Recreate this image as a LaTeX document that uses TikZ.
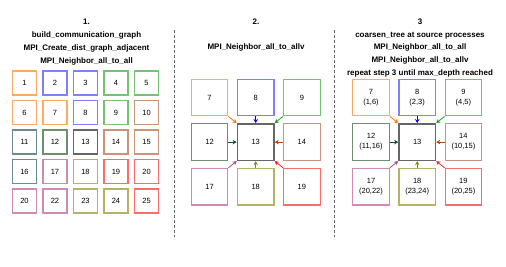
\documentclass[tikz,border=0pt]{standalone}
\usepackage{fontspec}
\setmainfont{Liberation Sans}
\usepackage{tikz}
\usetikzlibrary{arrows.meta}

% colori dei bordi (chiari) e delle frecce (scuri)
\definecolor{arancio}{HTML}{FFAA66}
\definecolor{arancioscuro}{HTML}{FF7700}
\definecolor{blu}{HTML}{7F7FFF}
\definecolor{bluscuro}{HTML}{0000FF}
\definecolor{verde}{HTML}{74C274}
\definecolor{verdescuro}{HTML}{1E991E}
\definecolor{marrone}{HTML}{C99479}
\definecolor{marronescuro}{HTML}{A84A10}
\definecolor{salvia}{HTML}{6F8F6F}
\definecolor{salviascuro}{HTML}{0B4A40}
\definecolor{petrolio}{HTML}{6B8C8C}
\definecolor{grigio}{HTML}{666666}
\definecolor{malva}{HTML}{D08CB0}
\definecolor{malvascuro}{HTML}{A34F80}
\definecolor{oliva}{HTML}{B4B460}
\definecolor{olivascuro}{HTML}{8C8C00}
\definecolor{rosso}{HTML}{FF6B6B}
\definecolor{rossoscuro}{HTML}{FF1A1A}

\begin{document}
\begin{tikzpicture}[x=1pt, y=-1pt, >=Stealth,
    cella/.style={draw, line width=1.3pt, minimum size=24pt, inner sep=0pt,
        font=\fontsize{7.5}{9}\selectfont},
    cellagrande/.style={cella, minimum size=36.5pt, align=center,
        font=\fontsize{7.5}{10}\selectfont},
    centro/.style={cellagrande, draw=grigio, line width=1.6pt},
    titolo/.style={align=center, font=\fontsize{8}{12.9}\selectfont\bfseries},
    freccia/.style={line width=0.8pt, -{Stealth[length=4pt, width=4.5pt]}}]

    \useasboundingbox (0,0) rectangle (506,267);

    % === Parametri della griglia ===
    \def\pitchx{30.5}   % passo orizzontale (pannello 1)
    \def\pitchy{29.5}   % passo verticale (pannello 1)
    \def\bigx{46.2}     % passo orizzontale (pannelli 2 e 3)
    \def\bigy{44.6}     % passo verticale (pannelli 2 e 3)

    % === 1. Titoli dei tre pannelli ===
    \node[titolo] (tit1) at (86.5,42) {1.\\build\_communication\_graph\\MPI\_Create\_dist\_graph\_adjacent\\MPI\_Neighbor\_all\_to\_all};
    \node[titolo] (tit2a) at (256,22) {2.};
    \node[titolo] (tit2b) at (256,47.5) {MPI\_Neighbor\_all\_to\_allv};
    \node[titolo] (tit3) at (420,48) {3\\coarsen\_tree at source processes\\MPI\_Neighbor\_all\_to\_all\\MPI\_Neighbor\_all\_to\_allv\\repeat step 3 until max\_depth reached};

    % === 2. Separatori tratteggiati ===
    \coordinate (sepAtop) at (174,30);
    \coordinate (sepAbot) at (174,237);
    \coordinate (sepBtop) at (334,30);
    \coordinate (sepBbot) at (334,237);
    \draw[grigio, line width=0.8pt, dash pattern=on 3pt off 2pt] (sepAtop) -- (sepAbot);
    \draw[grigio, line width=0.8pt, dash pattern=on 3pt off 2pt] (sepBtop) -- (sepBbot);

    % === 3. Pannello 1: griglia 5x5 dei processi ===
    \foreach \lab/\col [count=\i from 0] in {1/arancio, 2/blu, 3/blu, 4/verde, 5/verde,
        6/arancio, 7/arancio, 8/blu, 9/verde, 10/marrone,
        11/petrolio, 12/salvia, 13/grigio, 14/marrone, 15/marrone,
        16/petrolio, 17/malva, 18/oliva, 19/rosso, 20/rosso,
        20/malva, 22/malva, 23/oliva, 24/oliva, 25/rosso} {
        \pgfmathtruncatemacro{\r}{int(\i/5)}
        \pgfmathtruncatemacro{\c}{mod(\i,5)}
        \node[cella, draw=\col] (a\i) at ({24.5+\pitchx*\c}, {83+\pitchy*\r}) {\lab};
    }

    % === 4. Pannello 2: vicini del processo 13 ===
    \foreach \lab/\col/\cx/\cy in {7/arancio/0/0, 8/blu/1/0, 9/verde/2/0,
        12/salvia/0/1, 14/marrone/2/1,
        17/malva/0/2, 18/oliva/1/2, 19/rosso/2/2} {
        \node[cellagrande, draw=\col] (b\lab) at ({209.5+\bigx*\cx}, {97.5+\bigy*\cy}) {\lab};
    }
    \node[centro] (b13) at (255.7,142.1) {13};

    % === 5. Pannello 3: vicini con i figli accorpati ===
    \foreach \lab/\sub/\col/\cx/\cy in {7/{(1,6)}/arancio/0/0, 8/{(2,3)}/blu/1/0, 9/{(4,5)}/verde/2/0,
        12/{(11,16)}/salvia/0/1, 14/{(10,15)}/marrone/2/1,
        17/{(20,22)}/malva/0/2, 18/{(23,24)}/oliva/1/2, 19/{(20,25)}/rosso/2/2} {
        \node[cellagrande, draw=\col] (c\lab) at ({371+\bigx*\cx}, {97.5+\bigy*\cy}) {\lab\\\sub};
    }
    \node[centro] (c13) at (417.2,142.1) {13};

    % === 6. Frecce verso il processo 13 ===
    \foreach \p in {b, c} {
        \foreach \lab/\da/\a/\col in {7/south east/north west/arancioscuro,
            8/south/north/bluscuro, 9/south west/north east/verdescuro,
            12/east/west/salviascuro, 14/west/east/marronescuro,
            17/north east/south west/malvascuro, 18/north/south/olivascuro,
            19/north west/south east/rossoscuro} {
            \draw[freccia, \col] (\p\lab.\da) -- (\p13.\a);
        }
    }

\end{tikzpicture}
\end{document}
